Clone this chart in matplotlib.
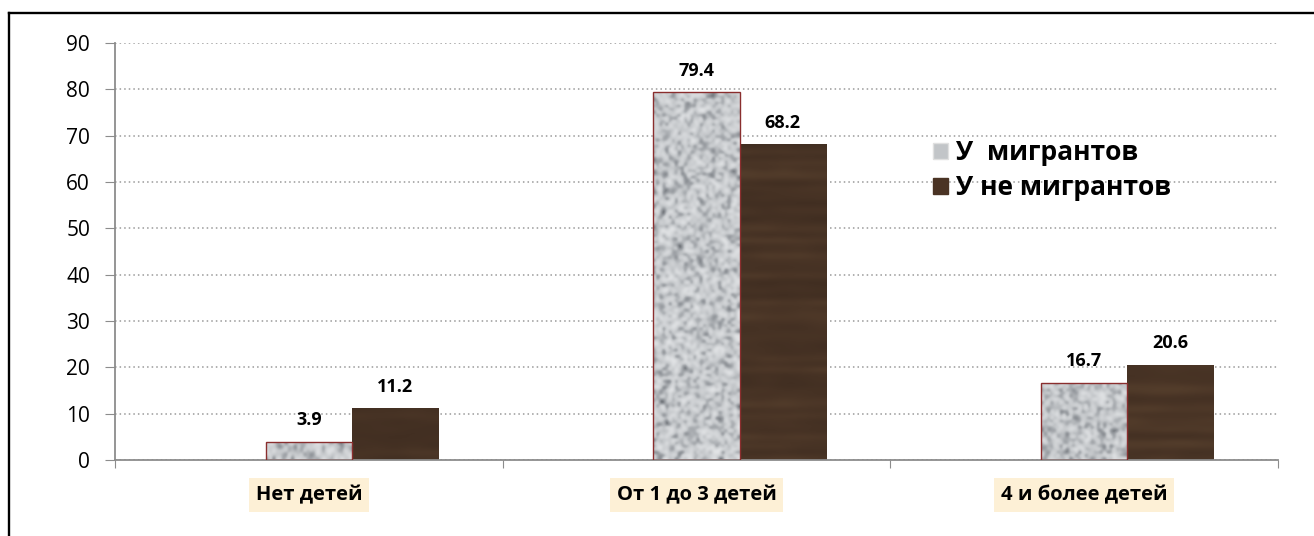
import matplotlib

matplotlib.use("Agg")
import matplotlib.pyplot as plt
import numpy as np
from matplotlib.colors import LinearSegmentedColormap
from matplotlib.lines import Line2D
from matplotlib.patches import Patch

plt.rcParams["font.family"] = ["Open Sans", "DejaVu Sans"]

# --- data ---
categories = ["Нет детей", "От 1 до 3 детей", "4 и более детей"]
series_names = ["У  мигрантов", "У не мигрантов"]
migrants = [3.9, 79.4, 16.7]
non_migrants = [11.2, 68.2, 20.6]
y_ticks = [0, 10, 20, 30, 40, 50, 60, 70, 80, 90]

W, H = 1314, 536
fig = plt.figure(figsize=(W / 100, H / 100), dpi=100)
ax = fig.add_axes([115 / W, 1 - 460 / H, (1278 - 115) / W, (460 - 43) / H])

granite = LinearSegmentedColormap.from_list("granite", ["#3c4044", "#8e9297", "#c4c7ca", "#e6e8ea"])
wood = LinearSegmentedColormap.from_list("wood", ["#33241a", "#3e2c20", "#4a3526", "#5a432f"])
rng = np.random.default_rng(7)  # texture only, not data

bw = 0.222
x = np.arange(len(categories))


def textured(xs, vals, cmap, tex_fn, edge):
    bars = ax.bar(xs, vals, width=bw, align="center", color="none",
                  edgecolor=edge, linewidth=1.0, zorder=3)
    for b in bars:
        tex = tex_fn(b.get_height())
        im = ax.imshow(tex, cmap=cmap, extent=(b.get_x(), b.get_x() + bw, 0, b.get_height()),
                       aspect="auto", interpolation="bicubic", zorder=2, vmin=0, vmax=1)
        im.set_clip_path(b)
    return bars


def granite_tex(h):
    rows = max(2, int(h * 1.5))
    t = rng.random((rows, 28)) ** 0.5
    return t


def wood_tex(h):
    rows = max(2, int(h * 0.9))
    streak = rng.random((rows, 1)) * 0.45 + 0.3
    t = streak + rng.random((rows, 5)) * 0.2
    return np.clip(t, 0, 1)


b1 = textured(x, migrants, granite, granite_tex, "#8a2e2e")
b2 = textured(x + bw, non_migrants, wood, wood_tex, "none")

for bars, vals in ((b1, migrants), (b2, non_migrants)):
    for b, v in zip(bars, vals):
        ax.annotate(f"{v:.1f}", (b.get_x() + bw / 2, v), xytext=(0, 9),
                    textcoords="offset points", ha="center", va="bottom",
                    fontsize=13, fontweight="bold", zorder=4)

ax.set_xlim(-0.5, len(categories) - 0.5)
ax.set_ylim(0, 90)
ax.set_yticks(y_ticks)
ax.yaxis.grid(True, color="#9a9a9a", linestyle=(0, (1, 2)), linewidth=1.1)
ax.set_axisbelow(True)
ax.tick_params(axis="y", length=7, color="#8c8c8c", labelsize=15, pad=11)

ax.set_xticks(np.arange(len(categories) + 1) - 0.5)
ax.set_xticklabels([])
ax.tick_params(axis="x", which="major", length=6, color="#8c8c8c", direction="out")
ax.set_xticks(x, minor=True)
ax.set_xticklabels(categories, minor=True, fontsize=14.5, fontweight="bold")
ax.tick_params(axis="x", which="minor", length=0, pad=18)
for lbl in ax.get_xticklabels(minor=True):
    lbl.set_bbox(dict(facecolor="#fdf0d6", edgecolor="none", pad=5))

for s in ("top", "right"):
    ax.spines[s].set_visible(False)
for s in ("left", "bottom"):
    ax.spines[s].set_color("#8c8c8c")
    ax.spines[s].set_linewidth(1.3)

handles = [Patch(facecolor="#c2c5c8", edgecolor="#e0e0e0"),
           Patch(facecolor="#4a3324", edgecolor="#4a3324")]
ax.legend(handles, series_names, loc="upper left", bbox_to_anchor=(0.683, 0.826),
          frameon=False, handlelength=0.55, handleheight=0.55, handletextpad=0.3,
          labelspacing=0.3, prop={"size": 19, "weight": "bold"})

fig.add_artist(Line2D([8.5 / W, 8.5 / W], [0, 1 - 12.5 / H], color="black", lw=1.7))
fig.add_artist(Line2D([8.5 / W, 1], [1 - 12.5 / H, 1 - 12.5 / H], color="black", lw=1.7))

fig.savefig("out.png", dpi=100)
